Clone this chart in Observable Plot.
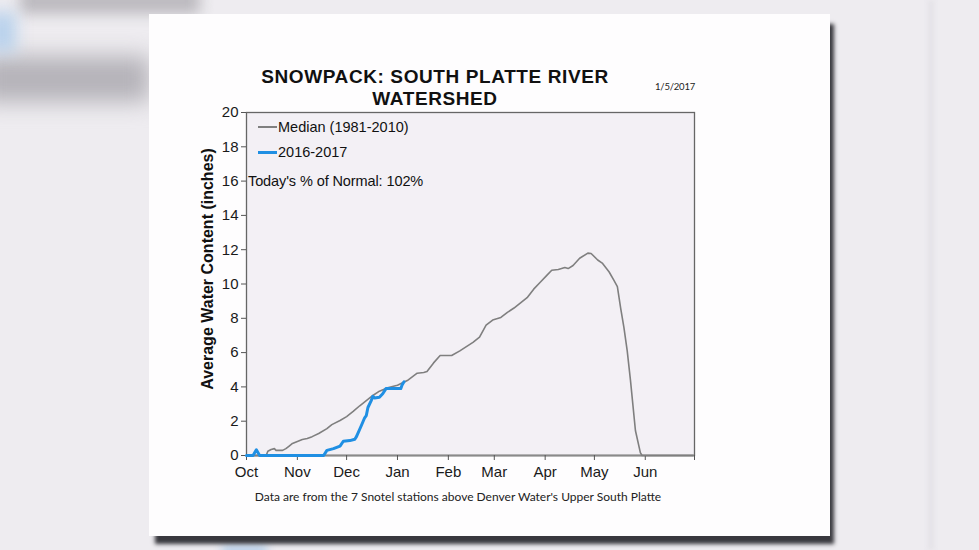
<!DOCTYPE html>
<html>
<head>
<meta charset="utf-8">
<script src="https://cdn.jsdelivr.net/npm/d3@7"></script>
<script src="https://cdn.jsdelivr.net/npm/@observablehq/plot@0.6"></script>
<style>
  html, body { margin: 0; padding: 0; width: 979px; height: 550px; overflow: hidden; background: #eeecf0; }
  .blob { position: absolute; }
  #panel { position: absolute; left: 149px; top: 14px; width: 681px; height: 522px; background: #fefdfe;
           box-shadow: 5px 9px 4px -1px rgba(25,25,30,0.85); }
  #title { position: absolute; left: 235px; width: 400px; top: 66px; text-align: center;
           font: bold 19px/22px "Liberation Sans", Arial, sans-serif; letter-spacing: 0.6px; color: #111; }
  #stamp { position: absolute; left: 655px; top: 81px; font: 9.5px Lato, sans-serif; letter-spacing: -0.2px; color: #222; }
  #chart { position: absolute; left: 149px; top: 100px; }
  #caption { position: absolute; left: 208px; width: 500px; top: 489px; text-align: center;
             font: 12px Lato, sans-serif; color: #222; }
  .key { position: absolute; font: 14.5px "Liberation Sans", Arial, sans-serif; color: #111; white-space: nowrap; }
  .swatch { position: absolute; }
</style>
</head>
<body>
<div class="blob" style="left:20px;top:-12px;width:180px;height:26px;background:#bcbabf;filter:blur(7px);"></div>
<div class="blob" style="left:-20px;top:56px;width:170px;height:46px;background:#b5b3b9;filter:blur(11px);"></div>
<div class="blob" style="left:-12px;top:12px;width:28px;height:40px;background:#b9d2ec;filter:blur(8px);"></div>
<div class="blob" style="left:222px;top:545px;width:45px;height:12px;background:#b8d0ea;filter:blur(5px);"></div>
<div class="blob" style="left:928px;top:0px;width:6px;height:550px;background:#e4e2e7;filter:blur(2px);"></div>
<div id="panel"></div>
<div id="title">SNOWPACK: SOUTH PLATTE RIVER<br>WATERSHED</div>
<div id="stamp">1/5/2017</div>
<div id="chart"></div>
<div class="swatch" style="left:258px;top:126px;width:19px;height:1.6px;background:#7f7f7f;"></div>
<div class="key" style="left:278px;top:119px;">Median (1981-2010)</div>
<div class="swatch" style="left:258px;top:150.5px;width:19px;height:3px;background:#1f8fe3;"></div>
<div class="key" style="left:278px;top:143.5px;">2016-2017</div>
<div class="key" style="left:248px;top:173px;letter-spacing:-0.1px;">Today's % of Normal: 102%</div>
<div id="caption">Data are from the 7 Snotel stations above Denver Water's Upper South Platte</div>
<script>
// Median snow water equivalent, 1981-2010 (inches)
const medianDates = [
  "2016-10-01","2016-10-13","2016-10-14","2016-10-16","2016-10-18","2016-10-19","2016-10-23",
  "2016-10-25","2016-10-27","2016-10-29","2016-11-01","2016-11-04","2016-11-07","2016-11-10",
  "2016-11-14","2016-11-19","2016-11-22","2016-11-27","2016-12-01","2016-12-05","2016-12-09",
  "2016-12-13","2016-12-17","2016-12-21","2016-12-26","2017-01-01","2017-01-07","2017-01-13",
  "2017-01-17","2017-01-19","2017-01-23","2017-01-27","2017-02-03","2017-02-08","2017-02-16",
  "2017-02-20","2017-02-24","2017-02-28","2017-03-05","2017-03-09","2017-03-13","2017-03-17",
  "2017-03-21","2017-03-25","2017-03-29","2017-04-02","2017-04-05","2017-04-09","2017-04-13",
  "2017-04-15","2017-04-18","2017-04-22","2017-04-27","2017-04-29","2017-05-03","2017-05-06",
  "2017-05-10","2017-05-13","2017-05-15","2017-05-17","2017-05-19","2017-05-21","2017-05-23",
  "2017-05-26","2017-05-29","2017-05-30","2017-06-30"
];
const medianValues = [
  0, 0, 0.25, 0.35, 0.4, 0.3, 0.3,
  0.4, 0.55, 0.7, 0.82, 0.93, 0.99, 1.1,
  1.28, 1.57, 1.8, 2.04, 2.27, 2.57, 2.9,
  3.2, 3.5, 3.75, 3.95, 4.1, 4.37, 4.8,
  4.84, 4.9, 5.4, 5.83, 5.83, 6.1, 6.6,
  6.9, 7.6, 7.9, 8.05, 8.35, 8.6, 8.9,
  9.2, 9.7, 10.1, 10.5, 10.8, 10.85, 10.96,
  10.9, 11.08, 11.5, 11.8, 11.78, 11.4, 11.2,
  10.7, 10.2, 9.85, 8.6, 7.46, 6.1, 4.37,
  1.46, 0.17, 0, 0
];

// Current season, 2016-2017 (inches)
const seasonDates = [
  "2016-10-01","2016-10-05","2016-10-07","2016-10-09","2016-11-17","2016-11-19","2016-11-23",
  "2016-11-27","2016-11-29","2016-12-03","2016-12-06","2016-12-07","2016-12-10","2016-12-12",
  "2016-12-13","2016-12-14","2016-12-16","2016-12-17","2016-12-18","2016-12-21","2016-12-23",
  "2016-12-25","2017-01-03","2017-01-04","2017-01-05"
];
const seasonValues = [
  0, 0, 0.33, 0, 0, 0.3, 0.4,
  0.55, 0.83, 0.87, 0.95, 1.1, 1.75, 2.2,
  2.33, 2.8, 3.2, 3.45, 3.35, 3.4, 3.6,
  3.9, 3.9, 4.15, 4.3
];

const yTicks = [0, 2, 4, 6, 8, 10, 12, 14, 16, 18, 20];
const yLabel = "Average Water Content (inches)";
const monthTicks = ["2016-10-01","2016-11-01","2016-12-01","2017-01-01","2017-02-01",
                    "2017-03-01","2017-04-01","2017-05-01","2017-06-01","2017-07-01"];
const monthLabels = ["Oct","Nov","Dec","Jan","Feb","Mar","Apr","May","Jun",""];

const parse = d3.utcParse("%Y-%m-%d");
const median = medianDates.map((d, i) => ({date: parse(d), swe: medianValues[i]}));
const season = seasonDates.map((d, i) => ({date: parse(d), swe: seasonValues[i]}));
const tickDates = monthTicks.map(parse);
const labelByTime = new Map(tickDates.map((d, i) => [+d, monthLabels[i]]));

const chart = Plot.plot({
  width: 681,
  height: 385,
  marginLeft: 97,
  marginRight: 136,
  marginTop: 12,
  marginBottom: 30,
  style: {fontFamily: "'Liberation Sans', Arial, sans-serif", fontSize: "15px", color: "#1a1a1a",
          background: "transparent", overflow: "visible"},
  x: {type: "utc", domain: [tickDates[0], tickDates[tickDates.length - 1]]},
  y: {domain: [0, 20]},
  marks: [
    Plot.frame({fill: "#f3f0f5", stroke: "#666", strokeWidth: 1.3}),
    Plot.ruleY([0], {stroke: "#8a8a8a", strokeWidth: 2}),
    Plot.axisX({ticks: tickDates, tickFormat: d => labelByTime.get(+d), tickSize: 5, tickPadding: 6,
                label: null, stroke: "#555"}),
    Plot.axisY({ticks: yTicks, tickSize: 5, tickPadding: 3, stroke: "#555", label: null}),
    // rotated y-axis title, set left of the tick labels
    Plot.text([yLabel], {frameAnchor: "left", rotate: -90, dx: -39, dy: -15, text: d => d,
                         fontSize: 16, fontWeight: "bold", fill: "#111", textAnchor: "middle",
                         lineAnchor: "middle"}),
    Plot.line(median, {x: "date", y: "swe", stroke: "#7f7f7f", strokeWidth: 1.6}),
    Plot.line(season, {x: "date", y: "swe", stroke: "#1f8fe3", strokeWidth: 3})
  ]
});
document.getElementById("chart").appendChild(chart);
</script>
</body>
</html>
